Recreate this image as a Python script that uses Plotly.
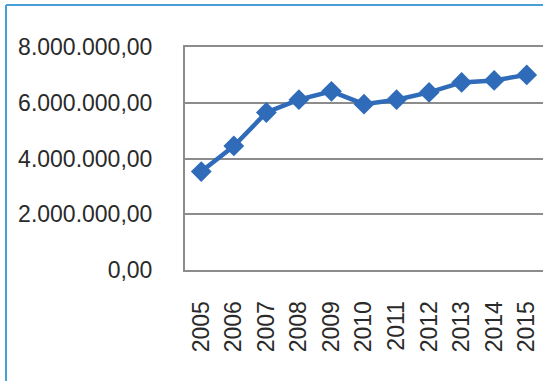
import plotly.graph_objects as go

# Yearly totals
years = ["2005", "2006", "2007", "2008", "2009", "2010",
         "2011", "2012", "2013", "2014", "2015"]
values = [3530000, 4450000, 5650000, 6110000, 6410000, 5950000,
          6110000, 6370000, 6730000, 6800000, 7000000]
y_ticks = [0, 2000000, 4000000, 6000000, 8000000]

W, H = 543, 381
ML, MR, MT, MB = 185, 0, 47, 111

fig = go.Figure()
fig.add_trace(go.Scatter(
    x=years, y=values, mode="lines+markers",
    line=dict(color="#2f6bb8", width=4.5),
    marker=dict(symbol="diamond", size=16, color="#2f6bb8"),
    showlegend=False, hoverinfo="skip",
))

grid = "#8c8c8c"
txt = "#2a2a2a"
fig.update_layout(
    width=W, height=H,
    margin=dict(l=ML, r=MR, t=MT, b=MB),
    paper_bgcolor="white", plot_bgcolor="white",
    separators=",.",
    font=dict(family="Liberation Sans, Arial, sans-serif", color=txt),
    xaxis=dict(
        type="category", range=[-0.5, 10.5],
        showgrid=False, showline=True, mirror=True,
        linecolor=grid, linewidth=2,
        ticks="", tickangle=-90, ticklabelstandoff=20,
        tickfont=dict(size=23, color=txt),
    ),
    yaxis=dict(
        range=[0, 8000000], tickvals=y_ticks, tickformat=",.2f",
        showgrid=True, gridcolor=grid, gridwidth=2,
        showline=True, linecolor=grid, linewidth=2,
        zeroline=False, ticks="", ticklabelstandoff=26,
        tickfont=dict(size=23, color=txt),
    ),
)

# Outer blue frame of the chart area (top and left edges visible)
pw = W - ML - MR
ph = H - MT - MB
def px_x(p):
    return (p - ML) / pw
def px_y(p):
    return (H - MB - p) / ph

frame = "#4a9fd8"
fig.add_shape(type="line", xref="paper", yref="paper",
              x0=px_x(6), x1=px_x(W + 5), y0=px_y(5), y1=px_y(5),
              line=dict(color=frame, width=2))
fig.add_shape(type="line", xref="paper", yref="paper",
              x0=px_x(6), x1=px_x(6), y0=px_y(5), y1=px_y(H + 5),
              line=dict(color=frame, width=2))

fig.write_html("out.html")
